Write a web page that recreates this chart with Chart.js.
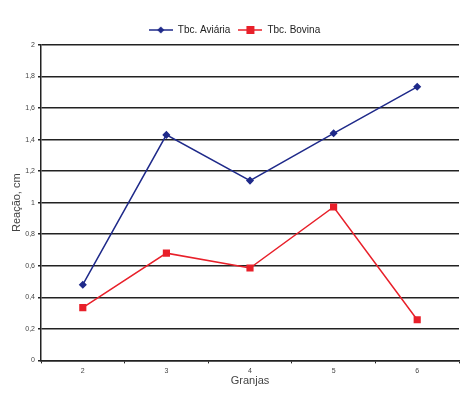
<!DOCTYPE html>
<html><head><meta charset="utf-8">
<script src="https://cdn.jsdelivr.net/npm/chart.js@4/dist/chart.umd.min.js"></script>
<style>html,body{margin:0;padding:0;background:#fff}#w{width:474px;height:395px}</style>
</head><body><div id="w"><canvas id="c"></canvas></div>
<script>
const categories = ['2','3','4','5','6'];
const aviaria = [0.48, 1.43, 1.14, 1.44, 1.735];
const bovina = [0.335, 0.68, 0.586, 0.973, 0.258];
const yTicks = [0,0.2,0.4,0.6,0.8,1,1.2,1.4,1.6,1.8,2];

function legendIcon(color, style){
  const c=document.createElement('canvas'); c.width=24; c.height=10;
  const x=c.getContext('2d');
  x.strokeStyle=color; x.lineWidth=1.5; x.beginPath(); x.moveTo(0,5); x.lineTo(24,5); x.stroke();
  x.fillStyle=color;
  if(style==='diamond'){ x.beginPath(); x.moveTo(12,1.5); x.lineTo(15.5,5); x.lineTo(12,8.5); x.lineTo(8.5,5); x.closePath(); x.fill(); }
  else { x.fillRect(8,1,8,8); }
  return c;
}
const icons=[legendIcon('#1f2a8a','diamond'), legendIcon('#e8202a','square')];

new Chart(document.getElementById('c'), {
  type:'line',
  data:{labels:categories, datasets:[
    {label:'Tbc. Aviária', data:aviaria, borderColor:'#1f2a8a', backgroundColor:'#1f2a8a', borderWidth:1.5, pointStyle:'rectRot', pointRadius:3, tension:0},
    {label:'Tbc. Bovina', data:bovina, borderColor:'#e8202a', backgroundColor:'#e8202a', borderWidth:1.5, pointStyle:'rect', pointRadius:4, tension:0}
  ]},
  options:{
    responsive:true, maintainAspectRatio:false, animation:false,
    layout:{padding:{left:10,right:15,top:17,bottom:7}},
    plugins:{
      legend:{position:'top', labels:{usePointStyle:true, pointStyleWidth:24, font:{family:'Liberation Sans',size:10}, color:'#222', padding:8,
        generateLabels(chart){ return chart.data.datasets.map((d,i)=>({text:d.label, pointStyle:icons[i], datasetIndex:i, hidden:false, lineWidth:0, fontColor:'#222'})); }
      }},
      tooltip:{enabled:false}
    },
    scales:{
      x:{offset:true, grid:{display:true, drawOnChartArea:false, drawTicks:true, tickLength:3, color:'#222', offset:true},
        border:{color:'#222', width:1.5},
        ticks:{font:{family:'Liberation Sans',size:7}, color:'#444', padding:3},
        title:{display:true, text:'Granjas', font:{family:'Liberation Sans',size:11}, color:'#444', padding:{top:-3,bottom:0}}},
      y:{min:0, max:2, afterBuildTicks(s){ s.ticks = yTicks.map(v=>({value:v})); },
        afterFit(s){ s.width=31; },
        grid:{color:'#222', lineWidth:1.5, tickLength:3},
        border:{color:'#222', width:1.5},
        ticks:{font:{family:'Liberation Sans',size:7}, color:'#444', padding:3, callback:v=>String(v).replace('.',',')},
        title:{display:true, text:'Reação, cm', font:{family:'Liberation Sans',size:11}, color:'#444', padding:{top:0,bottom:0}}}
    }
  }
});
</script></body></html>
